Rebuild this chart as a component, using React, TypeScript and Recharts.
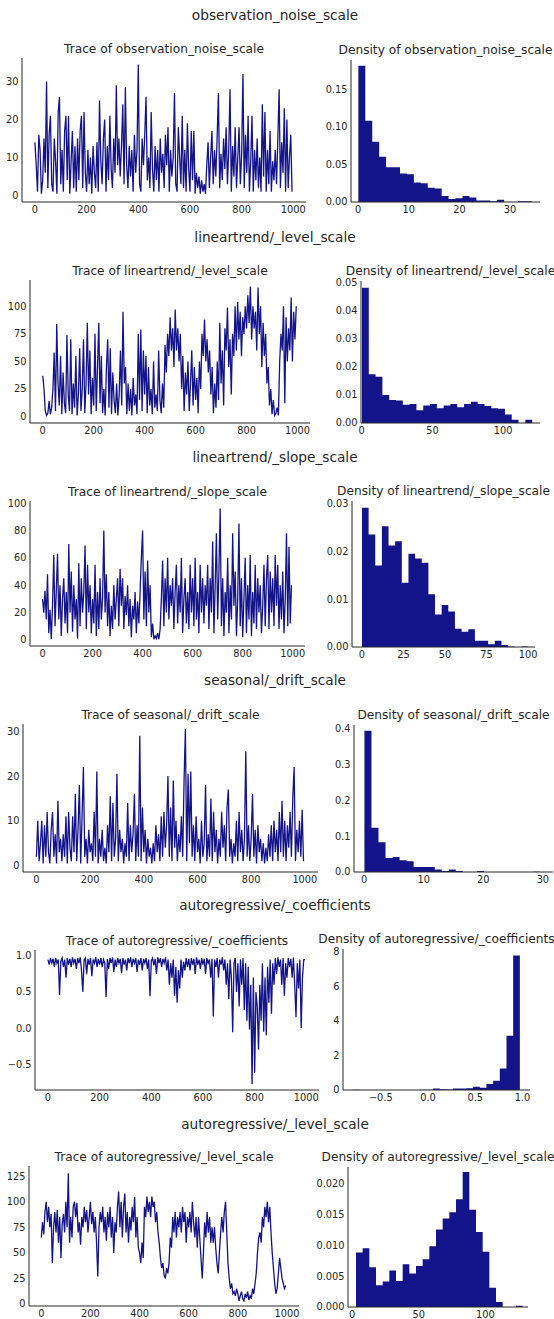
import { Area, AreaChart, Line, LineChart, XAxis, YAxis } from "recharts";

const NAVY = "#14148a";
const INK = "#262626";
const FONT = "DejaVu Sans, sans-serif";

// trace samples, one value per 5 draws (0..995)
const DRAW_STEP = 5;
const noiseTrace = [
  14, 8, 1, 16, 12, 0.5, 4, 15, 6, 30, 2, 16, 21, 3, 1, 15, 9, 0.5, 22, 26,
  3, 12, 1, 17, 21, 4, 21, 0.5, 9, 17, 2, 13, 1, 15, 4, 17, 21, 2, 22, 6,
  1, 12, 3, 10, 0.5, 13, 6, 2, 14, 1, 25, 9, 3, 15, 20, 1, 13, 4, 21, 7,
  2, 15, 6, 29, 8, 15, 5, 13, 24, 3, 28.5, 8, 2, 13, 5, 12, 1, 16, 6, 12,
  34.5, 3, 1, 15, 8, 16, 26, 4, 10, 2, 22, 7, 1, 13, 4, 12, 1, 15, 6, 11,
  2, 16, 8, 18, 1, 12, 5, 10, 27, 3, 1, 18, 10, 3, 21, 2, 12, 1, 19, 7,
  1, 17, 4, 17, 0.5, 6, 2, 5, 0.5, 4, 1, 3, 0.5, 8, 14, 2, 10, 17, 3, 12,
  5, 15, 27, 2, 11, 4, 15, 7, 18, 3, 12, 28, 1, 13, 5, 18, 2, 10, 18, 3,
  11, 32, 2, 16, 6, 21, 1, 9, 21, 1, 12, 4, 15, 2, 10, 1, 24, 5, 22, 1,
  12, 3, 17, 1, 9, 4, 12, 3, 15, 28, 2, 14, 6, 23, 1, 20, 2, 10, 16, 1,
];
const levelTrace = [
  37, 25, 5, 1, 3, 14, 2, 8, 25, 58, 5, 84, 30, 10, 55, 2, 40, 12, 3, 74,
  20, 5, 70, 2, 30, 8, 55, 1, 20, 62, 5, 25, 70, 3, 30, 85, 20, 60, 2, 35,
  10, 75, 5, 45, 85, 12, 55, 3, 25, 1, 45, 70, 8, 62, 2, 40, 15, 3, 30, 1,
  20, 60, 10, 95, 30, 45, 2, 30, 5, 25, 1, 35, 10, 20, 2, 75, 15, 79, 5, 60,
  20, 55, 3, 45, 10, 25, 2, 50, 8, 20, 5, 60, 15, 3, 30, 8, 65, 40, 75, 55,
  90, 60, 80, 45, 97, 60, 80, 50, 75, 25, 55, 5, 40, 20, 50, 5, 30, 60, 10, 45,
  15, 35, 3, 50, 25, 75, 55, 88, 50, 70, 40, 60, 20, 45, 3, 30, 8, 50, 15, 85,
  30, 60, 10, 80, 60, 99, 45, 70, 20, 75, 55, 100, 60, 104, 70, 95, 55, 90, 75, 100,
  80, 110, 85, 118, 70, 100, 80, 95, 60, 117, 75, 100, 45, 85, 55, 75, 30, 45, 10, 25,
  2, 15, 1, 3, 8, 1, 50, 75, 60, 100, 12, 90, 50, 80, 60, 108, 50, 95, 70, 100,
];
const slopeTrace = [
  30, 20, 36, 15, 48, 5, 22, 0.5, 25, 62, 10, 35, 63, 15, 40, 3, 30, 45, 12, 35,
  5, 70, 20, 50, 6, 40, 15, 30, 1, 56, 10, 45, 20, 35, 69, 8, 55, 20, 40, 5,
  30, 12, 55, 3, 35, 8, 45, 15, 30, 80, 20, 48, 10, 35, 3, 25, 8, 40, 15, 30,
  45, 10, 52, 25, 45, 8, 32, 18, 40, 10, 30, 2, 25, 15, 35, 5, 28, 12, 35, 60,
  80, 15, 50, 10, 58, 20, 40, 2, 12, 0.5, 3, 1, 5, 0.5, 8, 30, 58, 10, 45, 20,
  60, 15, 40, 25, 45, 8, 35, 55, 12, 40, 20, 60, 5, 30, 45, 12, 35, 8, 55, 20,
  45, 10, 60, 15, 35, 5, 55, 20, 45, 12, 40, 25, 55, 8, 45, 20, 72, 5, 40, 78,
  15, 50, 96, 10, 45, 3, 35, 20, 60, 5, 40, 15, 78, 25, 50, 3, 30, 85, 10, 45,
  2, 30, 60, 5, 40, 15, 62, 3, 35, 12, 55, 8, 45, 20, 40, 5, 25, 55, 10, 45,
  62, 8, 50, 20, 45, 10, 62, 25, 55, 8, 40, 15, 50, 5, 30, 78, 10, 68, 12, 40,
];
const driftTrace = [
  2, 10, 1, 5, 10, 0.5, 9, 2, 12, 3, 0.5, 8, 12, 2, 7, 0.5, 14.5, 3, 6, 1,
  7, 2, 11, 0.5, 12, 4, 1, 11, 3, 16, 1, 8, 18, 0.5, 11, 22, 2, 6, 0.5, 8,
  3, 5, 1, 12, 2, 21, 0.5, 6, 2, 8, 1, 4, 0.5, 9, 3, 15.5, 1, 14, 2, 6,
  20.5, 1, 8, 3, 6, 0.5, 5, 2, 14, 1, 9, 3, 7, 16, 1, 9, 2, 29, 1, 13,
  3, 8, 0.5, 6, 2, 4, 0.5, 5, 1, 9, 3, 7, 1, 11, 2, 12, 4, 9, 20, 2,
  13, 1, 19, 4, 10, 1, 7, 3, 11, 2, 19, 30.5, 1, 20.5, 5, 21, 2, 9, 1, 11,
  3, 6, 0.5, 10, 2, 5, 18, 1, 7, 2, 15, 1, 12, 3, 8, 0.5, 6, 2, 12, 4,
  9, 1, 13, 17, 2, 6, 0.5, 5, 2, 10, 1, 12, 3, 8, 1, 6, 25.5, 2, 9, 1,
  6, 16, 2, 8, 0.5, 9, 3, 6, 1, 5, 0.5, 4, 1, 7, 2, 9, 1, 10, 3, 8,
  1, 12, 3, 14.5, 2, 10, 1, 9, 4, 12, 2, 15, 22, 1, 8, 3, 10, 2, 12.5, 1,
];
const coefTrace = [
  0.95, 0.88, 0.97, 0.9, 0.96, 0.85, 0.97, 0.9, 0.95, 0.46, 0.93, 0.97, 0.85, 0.95, 0.7, 0.97, 0.88, 0.96, 0.85, 0.98,
  0.9, 0.96, 0.82, 0.97, 0.9, 0.98, 0.8, 0.5, 0.94, 0.97, 0.75, 0.96, 0.88, 0.97, 0.72, 0.95, 0.9, 0.98, 0.85, 0.96,
  0.88, 0.97, 0.85, 0.95, 0.9, 0.43, 0.96, 0.82, 0.97, 0.9, 0.98, 0.78, 0.95, 0.85, 0.97, 0.9, 0.96, 0.76, 0.97, 0.88,
  0.95, 0.8, 0.97, 0.9, 0.98, 0.85, 0.96, 0.9, 0.97, 0.78, 0.95, 0.88, 0.97, 0.8, 0.96, 0.9, 0.97, 0.82, 0.95, 0.44,
  0.93, 0.97, 0.87, 0.96, 0.75, 0.98, 0.9, 0.97, 0.85, 0.96, 0.9, 0.98, 0.8, 0.95, 0.6, 0.9, 0.7, 0.95, 0.45, 0.85,
  0.35, 0.8, 0.55, 0.95, 0.7, 0.92, 0.8, 0.97, 0.85, 0.96, 0.8, 0.97, 0.88, 0.96, 0.75, 0.98, 0.88, 0.95, 0.82, 0.97,
  0.88, 0.96, 0.75, 0.97, 0.9, 0.95, 0.7, 0.96, 0.16, 0.95, 0.85, 0.97, 0.7, 0.95, 0.88, 0.98, 0.8, 0.95, 0.6, 0.9,
  0.4, 0.95, 0.7, -0.06, 0.9, 0.97, 0.5, 0.9, 0.3, 0.95, 0.6, 0.97, 0.25, 0.9, 0.1, 0.85, -0.02, 0.6, -0.78, 0.7,
  -0.62, 0.5, 0.3, -0.3, 0.6, 0.1, 0.9, -0.05, 0.7, -0.1, 0.85, 0.35, 0.95, 0.2, 0.9, 0.6, 0.97, 0.75, 0.98, 0.85,
  0.95, 0.6, 0.97, 0.45, 0.9, 0.7, 0.97, 0.85, 0.96, 0.7, 0.98, 0.6, 0.15, 0.9, 0.55, 0.95, 0.0, 0.7, 0.95, 0.95,
];
const arLevelTrace = [
  65, 80, 68, 90, 100, 80, 95, 75, 88, 40, 75, 90, 70, 92, 60, 85, 45, 78, 88, 70,
  100, 75, 128, 60, 85, 65, 95, 100, 85, 99, 70, 80, 58, 85, 75, 95, 80, 92, 70, 85,
  100, 78, 90, 70, 85, 60, 27, 75, 90, 80, 95, 70, 85, 62, 90, 75, 95, 65, 85, 50,
  80, 70, 95, 110, 75, 100, 65, 95, 108, 70, 90, 60, 85, 72, 95, 80, 105, 65, 85, 55,
  50, 40, 60, 45, 95, 85, 105, 90, 100, 85, 105, 95, 100, 80, 90, 70, 60, 45, 35, 40,
  28, 25, 35, 30, 40, 65, 55, 85, 70, 90, 65, 85, 75, 90, 70, 95, 80, 90, 60, 85,
  75, 90, 70, 100, 80, 65, 85, 55, 85, 65, 45, 25, 50, 80, 65, 90, 70, 85, 60, 75,
  60, 75, 55, 40, 30, 50, 70, 85, 70, 90, 100, 70, 40, 25, 15, 20, 10, 12, 8, 15,
  10, 3, 8, 12, 5, 3, 10, 6, 12, 4, 8, 5, 15, 10, 20, 30, 50, 65, 70, 60,
  85, 75, 95, 85, 100, 80, 95, 70, 50, 35, 20, 10, 15, 30, 45, 35, 25, 20, 15, 18,
];

// histogram densities, 25 bins each: first edge, bin width, heights
const noiseBins = { start: 0.05, width: 1.37 };
const noiseDensity = [
  0.181, 0.108, 0.08, 0.06, 0.046, 0.046, 0.038, 0.037, 0.026, 0.025, 0.019, 0.018, 0.008,
  0.004, 0.005, 0.008, 0.006, 0.002, 0.002, 0.001, 0.003, 0, 0, 0.001, 0.001,
];
const levelBins = { start: 0.2, width: 4.81 };
const levelDensity = [
  0.0482, 0.0174, 0.0165, 0.01, 0.0082, 0.008, 0.0065, 0.0068, 0.0045, 0.0062, 0.0068, 0.0053, 0.0062,
  0.0068, 0.0056, 0.0068, 0.0076, 0.0068, 0.0061, 0.0053, 0.0051, 0.003, 0.0012, 0, 0.0012,
];
const slopeBins = { start: 0, width: 4 };
const slopeDensity = [
  0.0291, 0.0235, 0.017, 0.0252, 0.0212, 0.0221, 0.0134, 0.0195, 0.0185, 0.0176, 0.011, 0.0068, 0.0088,
  0.0074, 0.0038, 0.0032, 0.0037, 0.0013, 0.0013, 0.0006, 0.0013, 0.0004, 0.0001, 0, 0.0001,
];
const driftBins = { start: 0.05, width: 1.18 };
const driftDensity = [
  0.393, 0.123, 0.083, 0.039, 0.042, 0.033, 0.03, 0.014, 0.014, 0.014, 0.007, 0.003, 0.007,
  0.003, 0, 0, 0.003, 0, 0, 0, 0, 0, 0, 0, 0.001,
];
const coefBins = { start: -0.795, width: 0.0707 };
const coefDensity = [
  0.014, 0, 0, 0, 0, 0, 0, 0, 0, 0, 0.014, 0.014, 0.08,
  0.04, 0.03, 0.08, 0.08, 0.1, 0.19, 0.13, 0.35, 0.54, 1.24, 3.14, 7.8,
];
const arLevelBins = { start: 3, width: 5 };
const arLevelDensity = [
  0.0088, 0.0095, 0.0064, 0.0035, 0.0041, 0.0059, 0.0042, 0.0069, 0.0054, 0.0066, 0.0077, 0.0098, 0.0125,
  0.0143, 0.0153, 0.0174, 0.0218, 0.0157, 0.0121, 0.0089, 0.0031, 0.0008, 0, 0, 0.0002,
];

const traceTicks = [0, 200, 400, 600, 800, 1000];

const toTrace = (vals: number[]) => vals.map((v, i) => ({ x: i * DRAW_STEP, y: v }));
const toSteps = (bins: { start: number; width: number }, dens: number[]) => [
  ...dens.map((d, i) => ({ x: bins.start + i * bins.width, y: d })),
  { x: bins.start + dens.length * bins.width, y: dens[dens.length - 1] },
];

const minus = (s: string) => s.replace("-", "\u2212");
const fix = (n: number) => (v: number) => minus(v.toFixed(n));
const plain = (v: number) => minus(String(v));

type Rect = { x0: number; x1: number; y0: number; y1: number };
type Axis = { domain: [number, number]; ticks: number[]; fmt: (v: number) => string };

const YW = 50;
const XH = 22;
const MT = 10;
const MR = 16;

const tickStyle = { fill: INK, fontSize: 9.8, fontFamily: FONT };

function Panel({
  kind,
  rect,
  data,
  x,
  y,
}: {
  kind: "trace" | "hist";
  rect: Rect;
  data: { x: number; y: number }[];
  x: Axis;
  y: Axis;
}) {
  const width = rect.x1 - rect.x0 + YW + MR;
  const height = rect.y1 - rect.y0 + MT + XH;
  const axes = [
    <XAxis
      key="x"
      type="number"
      dataKey="x"
      domain={x.domain}
      ticks={x.ticks}
      interval={0}
      allowDataOverflow
      tickFormatter={x.fmt}
      height={XH}
      tickSize={0}
      tickMargin={4.5}
      tickLine={false}
      axisLine={{ stroke: INK, strokeWidth: 1 }}
      tick={tickStyle}
    />,
    <YAxis
      key="y"
      type="number"
      domain={y.domain}
      ticks={y.ticks}
      interval={0}
      allowDataOverflow
      tickFormatter={y.fmt}
      width={YW}
      tickSize={0}
      tickMargin={3.5}
      tickLine={false}
      axisLine={{ stroke: INK, strokeWidth: 1 }}
      tick={tickStyle}
    />,
  ];
  const style = { position: "absolute" as const, left: rect.x0 - YW, top: rect.y0 - MT };
  const margin = { top: MT, right: MR, left: 0, bottom: 0 };
  return (
    <div style={style}>
      {kind === "trace" ? (
        <LineChart width={width} height={height} data={data} margin={margin}>
          {axes}
          <Line
            type="linear"
            dataKey="y"
            stroke={NAVY}
            strokeWidth={1.3}
            dot={false}
            isAnimationActive={false}
          />
        </LineChart>
      ) : (
        <AreaChart width={width} height={height} data={data} margin={margin}>
          {axes}
          <Area
            type="stepAfter"
            dataKey="y"
            stroke="none"
            fill={NAVY}
            fillOpacity={1}
            isAnimationActive={false}
          />
        </AreaChart>
      )}
    </div>
  );
}

const rows = [
  {
    name: "observation_noise_scale",
    titleY: 15,
    trace: { x0: 22, x1: 306, y0: 58, y1: 202 },
    hist: { x0: 351, x1: 540, y0: 60, y1: 202 },
    data: toTrace(noiseTrace),
    bins: toSteps(noiseBins, noiseDensity),
    ty: { domain: [-1.7, 36.2], ticks: [0, 10, 20, 30], fmt: plain },
    hx: { domain: [-1.4, 35.9], ticks: [0, 10, 20, 30], fmt: plain },
    hy: { domain: [0, 0.1886], ticks: [0, 0.05, 0.1, 0.15], fmt: fix(2) },
  },
  {
    name: "lineartrend/_level_scale",
    titleY: 237,
    trace: { x0: 30, x1: 310, y0: 280, y1: 423 },
    hist: { x0: 361, x1: 540, y0: 281, y1: 423 },
    data: toTrace(levelTrace),
    bins: toSteps(levelBins, levelDensity),
    ty: { domain: [-5.9, 123.9], ticks: [0, 25, 50, 75, 100], fmt: plain },
    hx: { domain: [-0.5, 126], ticks: [0, 50, 100], fmt: plain },
    hy: { domain: [0, 0.0506], ticks: [0, 0.01, 0.02, 0.03, 0.04, 0.05], fmt: fix(2) },
  },
  {
    name: "lineartrend/_slope_scale",
    titleY: 457,
    trace: { x0: 30, x1: 305, y0: 501, y1: 646 },
    hist: { x0: 352, x1: 535, y0: 501, y1: 647 },
    data: toTrace(slopeTrace),
    bins: toSteps(slopeBins, slopeDensity),
    ty: { domain: [-4.4, 101.5], ticks: [0, 20, 40, 60, 80, 100], fmt: plain },
    hx: { domain: [-6, 104.2], ticks: [0, 25, 50, 75, 100], fmt: plain },
    hy: { domain: [0, 0.0305], ticks: [0, 0.01, 0.02, 0.03], fmt: fix(2) },
  },
  {
    name: "seasonal/_drift_scale",
    titleY: 680,
    trace: { x0: 23, x1: 318, y0: 724, y1: 872 },
    hist: { x0: 354, x1: 553, y0: 725, y1: 872 },
    data: toTrace(driftTrace),
    bins: toSteps(driftBins, driftDensity),
    ty: { domain: [-1.4, 31.6], ticks: [0, 10, 20, 30], fmt: plain },
    hx: { domain: [-1.7, 31.7], ticks: [0, 10, 20, 30], fmt: plain },
    hy: { domain: [0, 0.409], ticks: [0, 0.1, 0.2, 0.3, 0.4], fmt: fix(1) },
  },
  {
    name: "autoregressive/_coefficients",
    titleY: 905,
    trace: { x0: 35, x1: 319, y0: 950, y1: 1090 },
    hist: { x0: 343, x1: 530, y0: 949, y1: 1090 },
    data: toTrace(coefTrace),
    bins: toSteps(coefBins, coefDensity),
    ty: { domain: [-0.86, 1.083], ticks: [-0.5, 0, 0.5, 1], fmt: fix(1) },
    hx: { domain: [-0.9, 1.08], ticks: [-0.5, 0, 0.5, 1], fmt: fix(1) },
    hy: { domain: [0, 8.17], ticks: [0, 2, 4, 6, 8], fmt: plain },
  },
  {
    name: "autoregressive/_level_scale",
    titleY: 1124,
    trace: { x0: 29, x1: 299, y0: 1166, y1: 1306 },
    hist: { x0: 348, x1: 528, y0: 1167, y1: 1307 },
    data: toTrace(arLevelTrace),
    bins: toSteps(arLevelBins, arLevelDensity),
    ty: { domain: [-2, 135], ticks: [0, 25, 50, 75, 100, 125], fmt: plain },
    hx: { domain: [-3, 132], ticks: [0, 50, 100], fmt: plain },
    hy: { domain: [0, 0.0226], ticks: [0, 0.005, 0.01, 0.015, 0.02], fmt: fix(3) },
  },
];

const traceX: Axis = { domain: [-50, 1049], ticks: traceTicks, fmt: plain };

export default function App() {
  return (
    <div
      style={{
        position: "absolute",
        left: 0,
        top: 0,
        width: 554,
        height: 1319,
        background: "#fff",
        fontFamily: FONT,
        overflow: "hidden",
      }}
    >
      <svg width={554} height={1319} style={{ position: "absolute", left: 0, top: 0 }}>
        {rows.map((r) => (
          <g key={r.name} fill={INK} fontFamily={FONT}>
            <text x={275} y={r.titleY} fontSize={13.7} textAnchor="middle" dominantBaseline="central">
              {r.name}
            </text>
            <text
              x={(r.trace.x0 + r.trace.x1) / 2}
              y={r.trace.y0 - 9}
              fontSize={12.2}
              textAnchor="middle"
              dominantBaseline="central"
            >
              {`Trace of ${r.name}`}
            </text>
            <text
              x={(r.hist.x0 + r.hist.x1) / 2}
              y={r.hist.y0 - 10}
              fontSize={12.2}
              textAnchor="middle"
              dominantBaseline="central"
            >
              {`Density of ${r.name}`}
            </text>
          </g>
        ))}
      </svg>
      {rows.map((r) => (
        <div key={r.name}>
          <Panel kind="trace" rect={r.trace} data={r.data} x={traceX} y={r.ty as Axis} />
          <Panel kind="hist" rect={r.hist} data={r.bins} x={r.hx as Axis} y={r.hy as Axis} />
        </div>
      ))}
    </div>
  );
}
